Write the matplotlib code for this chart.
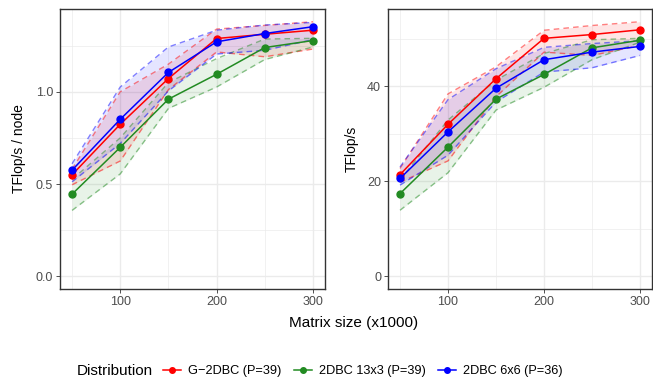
import matplotlib
matplotlib.use("Agg")
import matplotlib.pyplot as plt
from matplotlib.ticker import MultipleLocator
from matplotlib.lines import Line2D

plt.rcParams["font.family"] = ["Liberation Sans", "DejaVu Sans"]

sizes = [50, 100, 150, 200, 250, 300]
labels = ["G\u22122DBC (P=39)", "2DBC 13x3 (P=39)", "2DBC 6x6 (P=36)"]
colours = ["#FF0000", "#228B22", "#0000FF"]

# TFlop/s per node: mean, lower, upper
node_mean = [
    [0.55, 0.824, 1.072, 1.289, 1.312, 1.334],
    [0.445, 0.699, 0.96, 1.095, 1.24, 1.278],
    [0.575, 0.851, 1.105, 1.271, 1.316, 1.353],
]
node_low = [
    [0.496, 0.625, 1.012, 1.216, 1.19, 1.232],
    [0.357, 0.555, 0.91, 1.026, 1.175, 1.243],
    [0.512, 0.72, 1.005, 1.205, 1.225, 1.283],
]
node_high = [
    [0.58, 1.0, 1.15, 1.34, 1.36, 1.38],
    [0.525, 0.75, 1.05, 1.18, 1.286, 1.29],
    [0.61, 1.026, 1.243, 1.334, 1.362, 1.376],
]

# total TFlop/s: mean, lower, upper
tot_mean = [
    [21.4, 32.0, 41.6, 50.1, 50.9, 51.9],
    [17.4, 27.2, 37.3, 42.5, 48.1, 49.7],
    [20.6, 30.4, 39.6, 45.6, 47.2, 48.4],
]
tot_low = [
    [19.8, 24.3, 37.8, 47.2, 46.5, 48.6],
    [13.9, 21.8, 35.0, 39.8, 45.6, 49.3],
    [19.2, 25.5, 36.7, 43.0, 43.9, 46.5],
]
tot_high = [
    [22.7, 38.4, 44.1, 51.8, 52.8, 53.6],
    [20.3, 32.9, 41.3, 46.9, 49.8, 50.1],
    [23.0, 37.2, 43.7, 48.2, 49.0, 49.6],
]

fig = plt.figure(figsize=(6.53, 3.81), dpi=100)
ax1 = fig.add_axes([0.0919, 0.2415, 0.4058, 0.7349])
ax2 = fig.add_axes([0.5942, 0.2415, 0.4043, 0.7349])


def panel(ax, mean, low, high, ylabel, ymax, major, minor, pad):
    for m, lo, hi, c in zip(mean, low, high, colours):
        ax.fill_between(sizes, lo, hi, color=c, alpha=0.1, lw=0, zorder=2)
        ax.plot(sizes, lo, color=c, ls=(0, (4, 3)), lw=1, alpha=0.5, zorder=3)
        ax.plot(sizes, hi, color=c, ls=(0, (4, 3)), lw=1, alpha=0.5, zorder=3)
    for m, c in zip(mean, colours):
        ax.plot(sizes, m, color=c, lw=1.1, marker="o", ms=5, zorder=4)
    ax.set_xlim(37.5, 312.5)
    ax.set_ylim(-ymax * 0.05, ymax * 1.05)
    ax.set_xticks([100, 200, 300])
    ax.xaxis.set_minor_locator(MultipleLocator(50))
    ax.yaxis.set_major_locator(MultipleLocator(major))
    ax.yaxis.set_minor_locator(MultipleLocator(minor))
    ax.grid(which="major", color="#EBEBEB", lw=1.0, zorder=0)
    ax.grid(which="minor", color="#EBEBEB", lw=0.5, zorder=0)
    ax.set_axisbelow(True)
    ax.tick_params(which="major", length=3, width=0.6, color="#333333",
                   labelsize=9, labelcolor="#4D4D4D", pad=2)
    ax.tick_params(which="minor", length=0)
    for s in ax.spines.values():
        s.set_color("#333333")
        s.set_linewidth(1.0)
    ax.set_ylabel(ylabel, fontsize=10, labelpad=pad)


panel(ax1, node_mean, node_low, node_high, "TFlop/s / node", 1.38, 0.5, 0.25, 7)
ax1.yaxis.set_major_formatter(matplotlib.ticker.FormatStrFormatter("%.1f"))
panel(ax2, tot_mean, tot_low, tot_high, "TFlop/s", 53.6, 20, 10, 6)

fig.text(0.541, 0.153, "Matrix size (x1000)", ha="center", va="center", fontsize=11)

handles = [Line2D([], [], color=c, lw=1.1, marker="o", ms=4) for c in colours]
fig.text(0.118, 0.026, "Distribution", ha="left", va="center", fontsize=11)
fig.legend(handles, labels, loc="center left", bbox_to_anchor=(0.25, 0.026),
           ncol=3, frameon=False, fontsize=9.2, handlelength=1.4,
           handletextpad=0.55, columnspacing=0.95, borderaxespad=0, borderpad=0)

fig.savefig("out.png", dpi=100)
